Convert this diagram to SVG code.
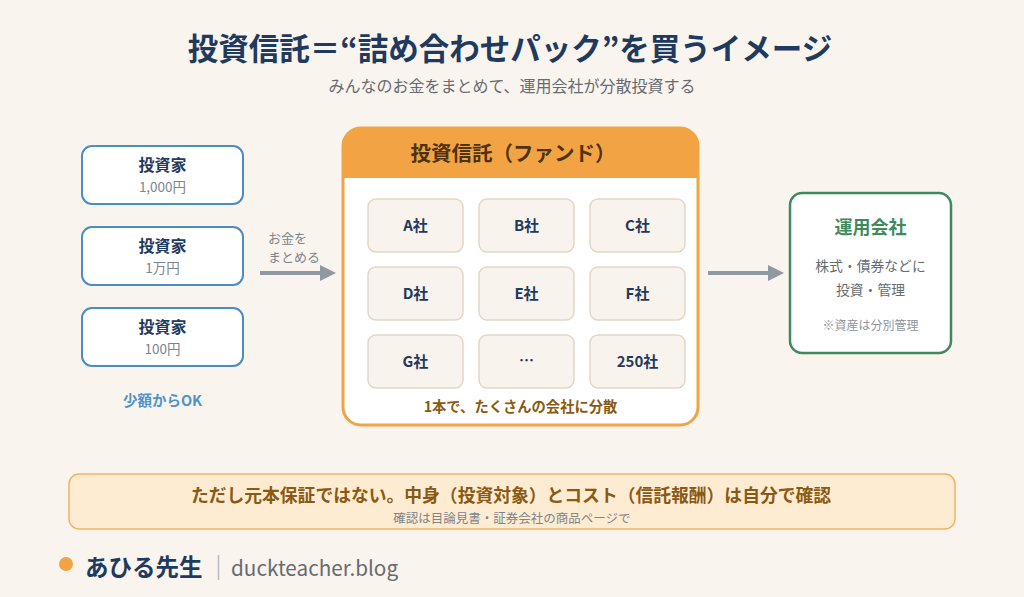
<svg xmlns="http://www.w3.org/2000/svg" width="1024" height="597" viewBox="0 0 1024 597">
  <style>
    text { font-family: "Noto Sans CJK JP", "Noto Sans", sans-serif; }
    .title { font-size: 30.5px; font-weight: 700; fill: #1f3a5f; }
    .sub { font-size: 16px; fill: #666b72; }
    .inv { fill: #ffffff; stroke: #4a8cc4; stroke-width: 2; }
    .invh { font-size: 16px; font-weight: 700; fill: #1f3a5f; }
    .invs { font-size: 13.5px; fill: #7d848c; }
    .co { fill: #f8f3ec; stroke: #e2d7c6; stroke-width: 1.5; }
    .cot { font-size: 15px; font-weight: 700; fill: #1f3a5f; }
    .lbl { font-size: 13px; fill: #7d848c; }
    .arrow { stroke: #8e99a4; stroke-width: 4; fill: none; }
    .head { fill: #8e99a4; }
  </style>
  <defs>
    <clipPath id="fundClip">
      <rect x="343" y="128" width="355" height="297" rx="18"/>
    </clipPath>
  </defs>

  <rect x="0" y="0" width="1024" height="597" fill="#f9f4ee"/>

  <text class="title" x="510" y="60" text-anchor="middle">投資信託＝“詰め合わせパック”を買うイメージ</text>
  <text class="sub" x="512" y="92" text-anchor="middle">みんなのお金をまとめて、運用会社が分散投資する</text>

  <!-- investors -->
  <g id="investor-1">
    <rect class="inv" x="82" y="146" width="161" height="58" rx="10"/>
    <text class="invh" x="162.5" y="171" text-anchor="middle">投資家</text>
    <text class="invs" x="162.5" y="192" text-anchor="middle">1,000円</text>
  </g>
  <g id="investor-2">
    <rect class="inv" x="82" y="227" width="161" height="58" rx="10"/>
    <text class="invh" x="162.5" y="252" text-anchor="middle">投資家</text>
    <text class="invs" x="162.5" y="273" text-anchor="middle">1万円</text>
  </g>
  <g id="investor-3">
    <rect class="inv" x="82" y="308" width="161" height="58" rx="10"/>
    <text class="invh" x="162.5" y="333" text-anchor="middle">投資家</text>
    <text class="invs" x="162.5" y="354" text-anchor="middle">100円</text>
  </g>
  <text x="162.5" y="406" text-anchor="middle" font-size="14.5" font-weight="700" fill="#4f93c9">少額からOK</text>

  <!-- connectors -->
  <g id="connectors">
    <line class="arrow" x1="260" y1="273" x2="322" y2="273"/>
    <polygon class="head" points="320,265 336,273 320,281"/>
    <text class="lbl" x="268" y="243">お金を</text>
    <text class="lbl" x="268" y="262">まとめる</text>
    <line class="arrow" x1="708" y1="273" x2="770" y2="273"/>
    <polygon class="head" points="768,265 784,273 768,281"/>
  </g>

  <!-- fund -->
  <g id="fund">
    <rect x="343" y="128" width="355" height="297" rx="18" fill="#ffffff"/>
    <rect x="343" y="128" width="355" height="50" fill="#f2a444" clip-path="url(#fundClip)"/>
    <rect x="343" y="128" width="355" height="297" rx="18" fill="none" stroke="#f2a444" stroke-width="3"/>
    <text x="513" y="161" text-anchor="middle" font-size="20.5" font-weight="700" fill="#4f3310">投資信託（ファンド）</text>

    <rect class="co" x="368" y="199" width="95" height="53" rx="8"/>
    <text class="cot" x="415.5" y="231" text-anchor="middle">A社</text>
    <rect class="co" x="479" y="199" width="95" height="53" rx="8"/>
    <text class="cot" x="526.5" y="231" text-anchor="middle">B社</text>
    <rect class="co" x="590" y="199" width="95" height="53" rx="8"/>
    <text class="cot" x="637.5" y="231" text-anchor="middle">C社</text>

    <rect class="co" x="368" y="267" width="95" height="53" rx="8"/>
    <text class="cot" x="415.5" y="299" text-anchor="middle">D社</text>
    <rect class="co" x="479" y="267" width="95" height="53" rx="8"/>
    <text class="cot" x="526.5" y="299" text-anchor="middle">E社</text>
    <rect class="co" x="590" y="267" width="95" height="53" rx="8"/>
    <text class="cot" x="637.5" y="299" text-anchor="middle">F社</text>

    <rect class="co" x="368" y="335" width="95" height="53" rx="8"/>
    <text class="cot" x="415.5" y="367" text-anchor="middle">G社</text>
    <rect class="co" x="479" y="335" width="95" height="53" rx="8"/>
    <text class="cot" x="526.5" y="366" text-anchor="middle">…</text>
    <rect class="co" x="590" y="335" width="95" height="53" rx="8"/>
    <text class="cot" x="637.5" y="367" text-anchor="middle">250社</text>

    <text x="520.5" y="412" text-anchor="middle" font-size="14.3" font-weight="700" fill="#8a5a14">1本で、たくさんの会社に分散</text>
  </g>

  <!-- management company -->
  <g id="manager">
    <rect x="790" y="193" width="161" height="160" rx="12" fill="#ffffff" stroke="#3f8a5c" stroke-width="2.5"/>
    <text x="870.5" y="234" text-anchor="middle" font-size="18" font-weight="700" fill="#3f8a5c">運用会社</text>
    <text x="870.5" y="271" text-anchor="middle" font-size="13.8" fill="#666b72">株式・債券などに</text>
    <text x="870.5" y="295" text-anchor="middle" font-size="13.8" fill="#666b72">投資・管理</text>
    <text x="870.5" y="330" text-anchor="middle" font-size="12" fill="#8e949a">※資産は分別管理</text>
  </g>

  <!-- caution banner -->
  <g id="caution">
    <rect x="69" y="474" width="886" height="55" rx="10" fill="#fdecd2" stroke="#f2b366" stroke-width="1.5"/>
    <text x="511" y="502" text-anchor="middle" font-size="17.8" font-weight="700" fill="#8a5a14">ただし元本保証ではない。中身（投資対象）とコスト（信託報酬）は自分で確認</text>
    <text x="512" y="523" text-anchor="middle" font-size="12.5" fill="#7d848c">確認は目論見書・証券会社の商品ページで</text>
  </g>

  <!-- footer -->
  <g id="footer">
    <circle cx="66" cy="564" r="7" fill="#f2a444"/>
    <text x="85" y="576" font-size="23.5" font-weight="700" fill="#1f3a5f">あひる先生</text>
    <line x1="218.5" y1="555" x2="218.5" y2="580" stroke="#b8bcc0" stroke-width="1.5"/>
    <text x="231" y="576" font-size="20.7" fill="#666b72">duckteacher.blog</text>
  </g>
</svg>
